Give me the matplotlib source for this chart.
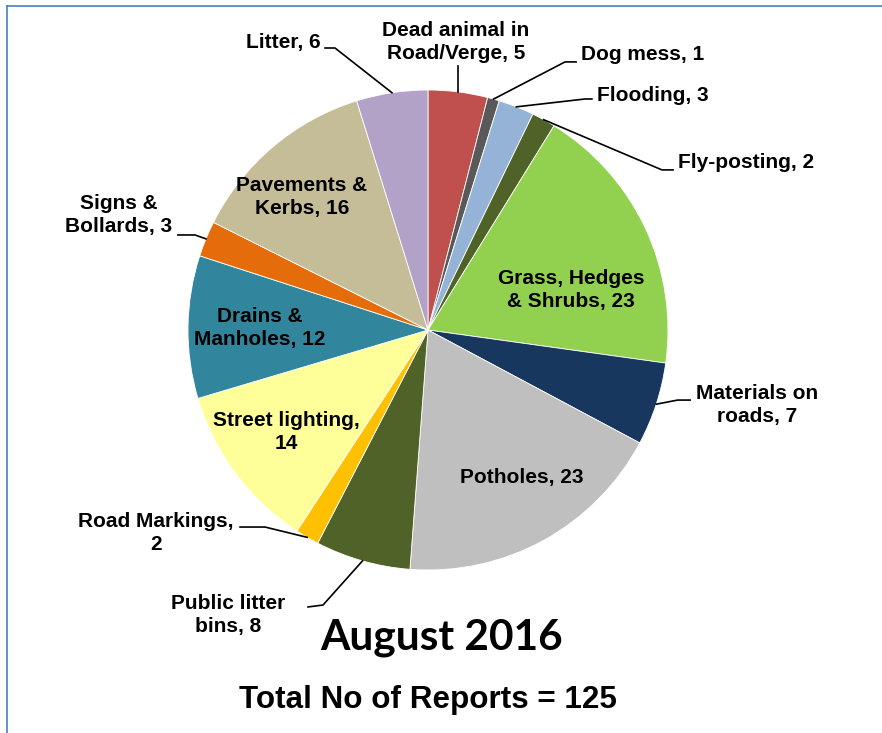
import matplotlib.pyplot as plt
import numpy as np
from matplotlib.lines import Line2D

# data, clockwise from 12 o'clock
categories = ["Dead animal in\nRoad/Verge", "Dog mess", "Flooding", "Fly-posting",
              "Grass, Hedges\n& Shrubs", "Materials on\nroads", "Potholes",
              "Public litter\nbins", "Road Markings,\n", "Street lighting,\n",
              "Drains &\nManholes", "Signs &\nBollards", "Pavements &\nKerbs",
              "Litter"]
values = [5, 1, 3, 2, 23, 7, 23, 8, 2, 14, 12, 3, 16, 6]
colors = ["#C0504D", "#595959", "#95B3D7", "#4F6228", "#92D050", "#17375E",
          "#BFBFBF", "#4F6228", "#FFC000", "#FFFF99", "#31859C", "#E46C0A",
          "#C4BD97", "#B3A2C7"]
title = "August 2016"
subtitle = "Total No of Reports = " + str(sum(values))

# label layout (pie data coords, radius 1): text pos, ha, leader elbow/end or None
label_layout = [
    ((0.117, 1.20), "center", None),
    ((0.6375, 1.146), "left", ((0.571, 1.117), (0.617, 1.117))),
    ((0.704, 0.979), "left", ((0.654, 0.9625), (0.683, 0.9625))),
    ((1.042, 0.70), "left", ((0.975, 0.667), (1.021, 0.667))),
    ((0.596, 0.167), "center", None),
    ((1.371, -0.3125), "center", ((1.04, -0.292), (1.092, -0.292))),
    ((0.392, -0.6125), "center", None),
    ((-0.833, -1.1875), "center", ((-0.4375, -1.146), (-0.50, -1.154))),
    ((-1.133, -0.846), "center", ((-0.679, -0.821), (-0.783, -0.821))),
    ((-0.592, -0.425), "center", None),
    ((-0.70, 0.008), "center", None),
    ((-1.29, 0.479), "center", ((-0.971, 0.396), (-1.042, 0.396))),
    ((-0.525, 0.554), "center", None),
    ((-0.604, 1.196), "center", ((-0.3875, 1.175), (-0.429, 1.175))),
]

W, H = 882, 733
fig = plt.figure(figsize=(W / 100, H / 100), dpi=100)
cx, cy, r = 428, 330, 240
ax = fig.add_axes([(cx - r) / W, (H - cy - r) / H, 2 * r / W, 2 * r / H])

wedges, _ = ax.pie(values, colors=colors, startangle=90, counterclock=False,
                   radius=1, wedgeprops=dict(edgecolor="white", linewidth=0.6))
ax.set_xlim(-1, 1)
ax.set_ylim(-1, 1)
ax.set_aspect("equal")
ax.axis("off")

total = sum(values)
cum = np.cumsum([0] + values)
for i, (name, v) in enumerate(zip(categories, values)):
    (tx, ty), ha, leader = label_layout[i]
    if name.endswith("\n"):
        txt = name + str(v)
    else:
        txt = f"{name}, {v}"
    ax.text(tx, ty, txt, ha=ha, va="center", fontsize=15, fontweight="bold",
            family="Liberation Sans", linespacing=1.3, clip_on=False)
    # point on the wedge edge at its middle angle
    ang = np.deg2rad(90 - (cum[i] + v / 2) / total * 360)
    px, py = np.cos(ang), np.sin(ang)
    if leader is None and i == 0:
        ax.plot([px, px], [py, 1.10], color="black", lw=1.2, clip_on=False)
    elif leader is not None:
        (ex, ey), (fx, fy) = leader
        ax.plot([px, ex, fx], [py, ey, fy], color="black", lw=1.2,
                clip_on=False)

fig.text(0.501, 1 - 638 / H, title, ha="center", va="center", fontsize=30.5,
         fontweight="bold", family="Lato")
fig.text(0.485, 1 - 700 / H, subtitle, ha="center", va="center", fontsize=22.6,
         fontweight="bold", family="Liberation Sans")

# frame
fig.add_artist(Line2D([7 / W, 7 / W], [0, 1 - 6 / H], color="#4A7EBB", lw=1.2))
fig.add_artist(Line2D([7 / W, 1], [1 - 6 / H, 1 - 6 / H], color="#4A7EBB",
                      lw=1.2))

fig.savefig("out.png", dpi=100)
